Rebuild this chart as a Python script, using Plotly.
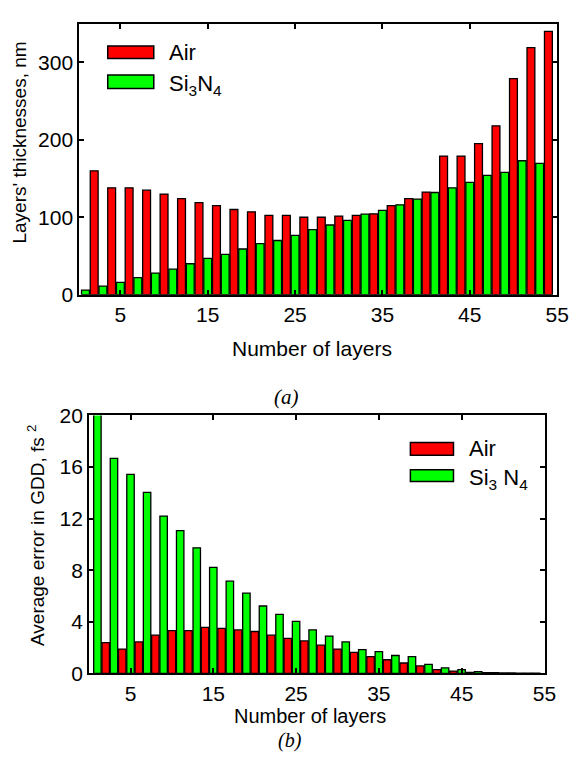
import plotly.graph_objects as go

# ---------------- data ----------------
layers_air = [2, 4, 6, 8, 10, 12, 14, 16, 18, 20, 22, 24, 26, 28, 30, 32, 34, 36, 38, 40, 42, 44, 46, 48, 50, 52, 54]
layers_si = [1, 3, 5, 7, 9, 11, 13, 15, 17, 19, 21, 23, 25, 27, 29, 31, 33, 35, 37, 39, 41, 43, 45, 47, 49, 51, 53]

thick_air = [160, 138, 138, 135, 130, 124, 119, 115, 110, 107, 102.5, 102.5, 100, 100, 101.5, 102.5,
             104.5, 115, 124, 132.5, 179, 179, 195, 218, 279, 319, 340]
thick_si = [6, 11, 16, 22, 28, 33, 40, 47, 52, 59, 66, 70, 76.5, 84, 90, 96, 104, 109, 116, 123.5,
            132, 138, 145, 154, 158, 173, 169.5]

gdd_air = [2.39, 1.89, 2.44, 2.97, 3.32, 3.32, 3.57, 3.5, 3.37, 3.25, 2.97, 2.72, 2.52, 2.19, 1.89,
           1.64, 1.31, 1.06, 0.81, 0.58, 0.3, 0.18, 0.09, 0.06, 0.04, 0.03, 0.02]
gdd_si = [20.3, 16.68, 15.43, 14.04, 12.2, 11.07, 9.74, 8.23, 7.15, 6.22, 5.23, 4.58, 4.03, 3.37, 2.9,
          2.44, 1.84, 1.69, 1.39, 1.31, 0.71, 0.43, 0.3, 0.14, 0.07, 0.04, 0.03]

x_ticks = [5, 15, 25, 35, 45, 55]
y_ticks_a = [0, 100, 200, 300]
y_ticks_b = [0, 4, 8, 12, 16, 20]

RED = "#ff0000"
GREEN = "#00ff00"
FONT = "Liberation Sans, Arial, sans-serif"
W, H = 584, 763


def px(x):
    return x / W


def py(y):
    return 1 - y / H


fig = go.Figure()
bar_line = dict(color="black", width=1.3)
BW = 0.9
fig.add_trace(go.Bar(x=layers_air, y=thick_air, width=BW, marker=dict(color=RED, line=bar_line),
                     name="Air", xaxis="x", yaxis="y"))
fig.add_trace(go.Bar(x=layers_si, y=thick_si, width=BW, marker=dict(color=GREEN, line=bar_line),
                     name="Si3N4", xaxis="x", yaxis="y"))
fig.add_trace(go.Bar(x=layers_air, y=gdd_air, width=BW, marker=dict(color=RED, line=bar_line),
                     name="Air", xaxis="x2", yaxis="y2"))
fig.add_trace(go.Bar(x=layers_si, y=gdd_si, width=BW, marker=dict(color=GREEN, line=bar_line),
                     name="Si3N4", xaxis="x2", yaxis="y2"))

axis_common = dict(showline=True, linecolor="black", linewidth=2, mirror="ticks", ticks="inside",
                   ticklen=5, tickwidth=1.5, tickcolor="black", showgrid=False, zeroline=False,
                   tickfont=dict(family=FONT, size=21, color="black"))

fig.update_layout(
    width=W, height=H, margin=dict(l=0, r=0, t=0, b=0),
    paper_bgcolor="white", plot_bgcolor="white", showlegend=False, barmode="overlay",
    xaxis=dict(domain=[px(81), px(569)], range=[0.3, 55.02], tickvals=x_ticks, anchor="y", **axis_common),
    yaxis=dict(domain=[py(291.5), py(12)], range=[0, 350], tickvals=y_ticks_a, anchor="x", **axis_common),
    xaxis2=dict(domain=[px(91), px(556)], range=[0, 55.02], tickvals=x_ticks, anchor="y2", **axis_common),
    yaxis2=dict(domain=[py(682), py(416)], range=[0, 20], tickvals=y_ticks_b, anchor="x2", **axis_common),
)

shapes = []
ann = []


def legend(x0, x1, yr, yg, tx, si_text, ty_r, ty_g):
    shapes.append(dict(type="rect", xref="paper", yref="paper", x0=px(x0), x1=px(x1),
                       y0=py(yr[1]), y1=py(yr[0]), fillcolor=RED, line=dict(color="black", width=1.5)))
    shapes.append(dict(type="rect", xref="paper", yref="paper", x0=px(x0), x1=px(x1),
                       y0=py(yg[1]), y1=py(yg[0]), fillcolor=GREEN, line=dict(color="black", width=1.5)))
    ann.append(dict(xref="paper", yref="paper", x=px(tx), y=py(ty_r), text="Air", showarrow=False,
                    xanchor="left", yanchor="middle", font=dict(family=FONT, size=22, color="black")))
    ann.append(dict(xref="paper", yref="paper", x=px(tx), y=py(ty_g), text=si_text, showarrow=False,
                    xanchor="left", yanchor="middle", font=dict(family=FONT, size=22, color="black")))


legend(110, 157, (35, 48), (65, 79), 170, "Si<sub>3</sub>N<sub>4</sub>", 42, 75)
legend(419, 463, (444, 457), (472, 484), 477, "Si<sub>3</sub> N<sub>4</sub>", 450, 481)

ann.append(dict(xref="paper", yref="paper", x=px(319), y=py(347), text="Number of layers", showarrow=False,
                xanchor="center", yanchor="middle", font=dict(family=FONT, size=21, color="black")))
ann.append(dict(xref="paper", yref="paper", x=px(316), y=py(726), text="Number of layers", showarrow=False,
                xanchor="center", yanchor="middle", font=dict(family=FONT, size=20, color="black")))
ann.append(dict(xref="paper", yref="paper", x=px(20), y=py(135), text="Layers' thicknesses, nm", showarrow=False,
                textangle=-90, xanchor="center", yanchor="middle", font=dict(family=FONT, size=19, color="black")))
ann.append(dict(xref="paper", yref="paper", x=px(36), y=py(540), text="Average error in GDD, fs <sup>2</sup>",
                showarrow=False, textangle=-90, xanchor="center", yanchor="middle",
                font=dict(family=FONT, size=19, color="black")))
ann.append(dict(xref="paper", yref="paper", x=px(293), y=py(397), text="<i>(a)</i>", showarrow=False,
                xanchor="center", yanchor="middle",
                font=dict(family="Liberation Serif, Times New Roman, serif", size=21, color="black")))
ann.append(dict(xref="paper", yref="paper", x=px(296), y=py(751), text="<i>(b)</i>", showarrow=False,
                xanchor="center", yanchor="middle",
                font=dict(family="Liberation Serif, Times New Roman, serif", size=20, color="black")))

fig.update_layout(shapes=shapes, annotations=ann)
fig.write_html("out.html")
